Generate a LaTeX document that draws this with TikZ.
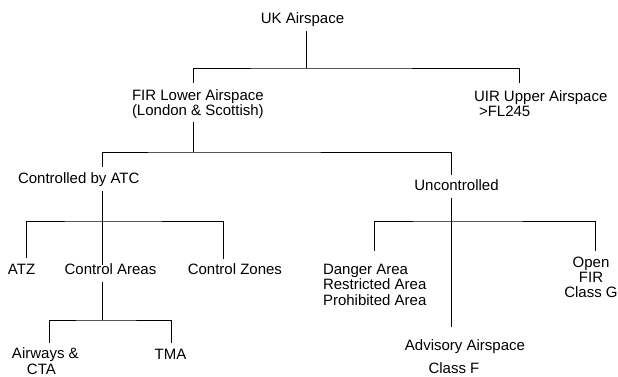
\documentclass[tikz,border=0pt]{standalone}
\usepackage{fontspec}
\setmainfont{Liberation Sans}
\begin{document}
\begin{tikzpicture}[x=1pt,y=-1pt,
  lbl/.style={inner sep=0pt, outer sep=0pt, font=\fontsize{15}{15.5}\selectfont},
  conn/.style={line width=0.9pt, draw=black}]
\useasboundingbox (0,0) rectangle (618,376);
% nodes (multi-line nodes: base anchor = baseline of last line)
\node[lbl, anchor=base] (uk) at (302.5,23) {UK Airspace};
\node[lbl, anchor=base west, align=left, font=\fontsize{15}{15}\selectfont] (fir) at (132,115) {FIR Lower Airspace\\(London \& Scottish)};
\node[lbl, anchor=base west, align=left, font=\fontsize{15}{15}\selectfont] (uir) at (474,116) {UIR Upper Airspace\\\hspace*{5pt}>FL245};
\node[lbl, anchor=base west] (atc) at (18,183) {Controlled by ATC};
\node[lbl, anchor=base] (unc) at (456.5,190) {Uncontrolled};
\node[lbl, anchor=base west] (atz) at (8,274) {ATZ};
\node[lbl, anchor=base] (ca) at (110.5,274) {Control Areas};
\node[lbl, anchor=base east] (cz) at (282,274) {Control Zones};
\node[lbl, anchor=base west, align=left] (dang) at (323,305) {Danger Area\\Restricted Area\\Prohibited Area};
\node[lbl, anchor=base, align=center, font=\fontsize{15}{15}\selectfont] (open) at (591,297) {Open\\FIR\\Class G};
\node[lbl, anchor=base west, align=left, font=\fontsize{15}{16}\selectfont] (awy) at (12,374) {Airways \&\\\hspace*{15pt}CTA};
\node[lbl, anchor=base] (tma) at (170.5,359) {TMA};
\node[lbl, anchor=base] (adv) at (465,350) {Advisory Airspace};
\node[lbl, anchor=base] (clf) at (454,373) {Class F};
% connector points
\coordinate (ukS) at (306.7,31);
\coordinate (ukJ) at (306.7,68);
\coordinate (firN) at (193,83);
\coordinate (uirN) at (519,83);
\coordinate (firS) at (193,122);
\coordinate (firJ) at (193,152);
\coordinate (atcN) at (102,167);
\coordinate (uncN) at (451,175);
\coordinate (atcS) at (102,191);
\coordinate (atcJ) at (102,221);
\coordinate (atzN) at (26,258);
\coordinate (caN) at (102,265);
\coordinate (czN) at (223,259);
\coordinate (caS) at (102,282);
\coordinate (caJ) at (102,320);
\coordinate (awyN) at (49,343);
\coordinate (tmaN) at (171,343);
\coordinate (uncS) at (451,198);
\coordinate (uncJ) at (451,221);
\coordinate (dangN) at (374,251);
\coordinate (openN) at (595,251);
\coordinate (advN) at (451,327);
% connectors
\draw[conn] (ukS) -- (ukJ);
\draw[conn] (firN) |- (ukJ) -| (uirN);
\draw[conn] (firS) -- (firJ);
\draw[conn] (atcN) |- (firJ) -| (uncN);
\draw[conn] (atcS) -- (caN);
\draw[conn] (atzN) |- (atcJ) -| (czN);
\draw[conn] (caS) -- (caJ);
\draw[conn] (awyN) |- (caJ) -| (tmaN);
\draw[conn] (uncS) -- (advN);
\draw[conn] (dangN) |- (uncJ) -| (openN);
\end{tikzpicture}
\end{document}
